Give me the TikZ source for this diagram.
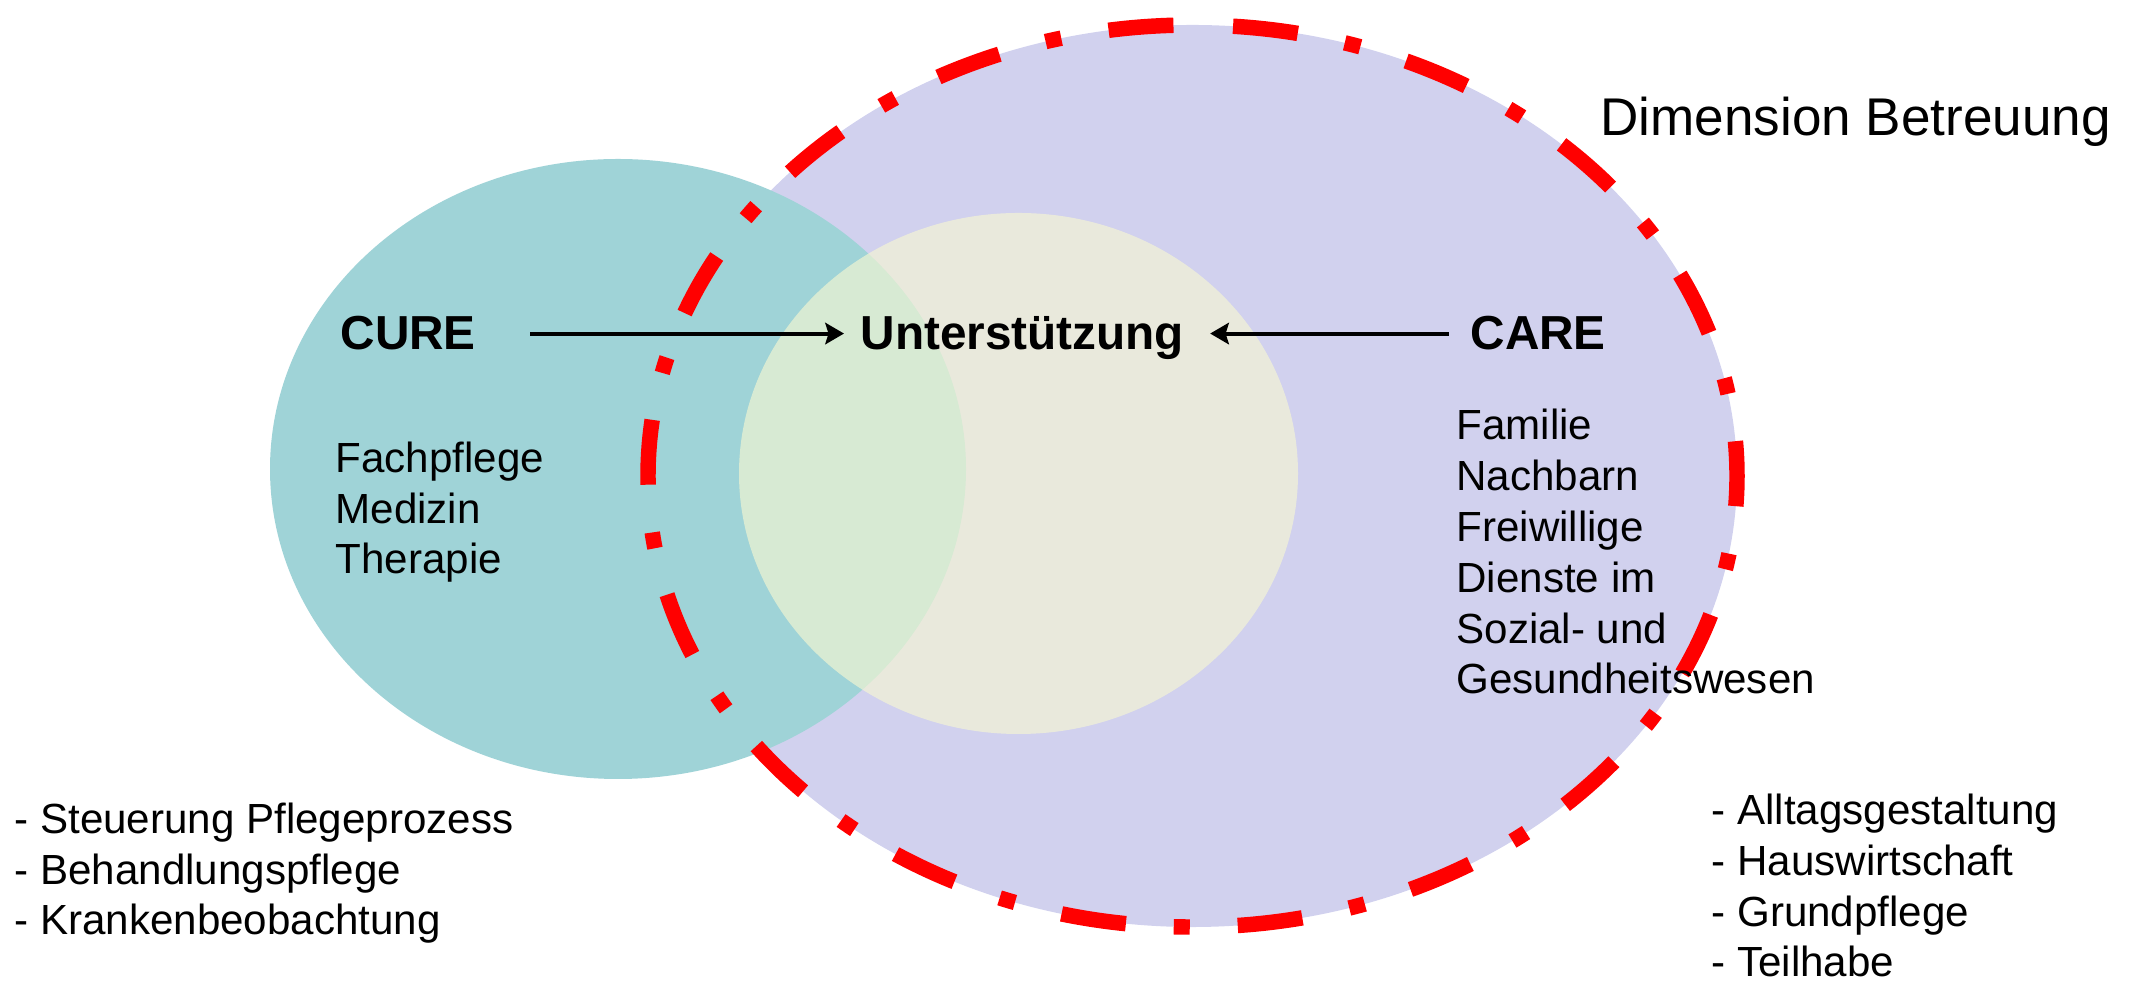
\documentclass[tikz,border=0pt]{standalone}
\usepackage{fontspec}
\setmainfont{Liberation Sans}
\usetikzlibrary{arrows.meta}
\definecolor{lav}{RGB}{209,209,238}
\definecolor{tealc}{RGB}{159,211,215}
\definecolor{innerc}{RGB}{248,248,210}
\definecolor{redc}{RGB}{255,0,0}
\tikzset{
  reg/.style={font=\fontsize{15.8pt}{19.1pt}\selectfont, inner sep=0pt, anchor=base west, align=left},
  bld/.style={font=\fontsize{17.9pt}{21pt}\selectfont\bfseries, inner sep=0pt, anchor=base west},
  ttl/.style={font=\fontsize{19.9pt}{24pt}\selectfont, inner sep=0pt, anchor=base west},
  arr/.style={line width=1.5pt, -{Stealth[length=7pt, width=8pt, inset=1.2pt]}},
  reddash/.style={draw=redc, line width=5.8pt, dash pattern=on 24.4pt off 18pt on 6pt off 18pt, dash phase=59.25pt},
}
\begin{document}
\begin{tikzpicture}[x=0.375pt, y=0.375pt]
\useasboundingbox (0,0) rectangle (2134,984);
% big lavender ellipse
\fill[lav] (1192.5,508) ellipse [x radius=204.19pt, y radius=169.13pt];
% teal ellipse
\fill[tealc] (618,515) ellipse [x radius=130.5pt, y radius=116.25pt];
% red dashed outline
\draw[reddash] (1192.5,959) arc[start angle=90, end angle=450, x radius=204.19pt, y radius=169.13pt];
% inner ellipse
\fill[innerc, fill opacity=0.63] (1018.5,510.5) ellipse [x radius=104.81pt, y radius=97.69pt];

% texts (multi-line nodes anchored at the baseline of their last line)
\node[ttl] (dim) at (1600,848) {Dimension Betreuung};
\node[bld] (cure) at (340,634) {CURE};
\node[bld] (unt) at (860,634) {Unterstützung};
\node[bld] (care) at (1470,634) {CARE};
\node[reg] (curelist) at (335,410) {Fachpflege\\Medizin\\Therapie};
\node[reg] (carelist) at (1456,290) {Familie\\Nachbarn\\Freiwillige\\Dienste im\\Sozial- und\\Gesundheitswesen};
\node[reg] (leftlist) at (14,49) {- Steuerung Pflegeprozess\\- Behandlungspflege\\- Krankenbeobachtung};
\node[reg] (rightlist) at (1711,7) {- Alltagsgestaltung\\- Hauswirtschaft\\- Grundpflege\\- Teilhabe};

% arrows
\draw[arr, shorten <=20.25pt, shorten >=6pt] (cure.east) -- (cure.east -| unt.west);
\draw[arr, shorten <=7.9pt, shorten >=9.6pt] (care.west) -- (care.west -| unt.east);
\end{tikzpicture}
\end{document}
